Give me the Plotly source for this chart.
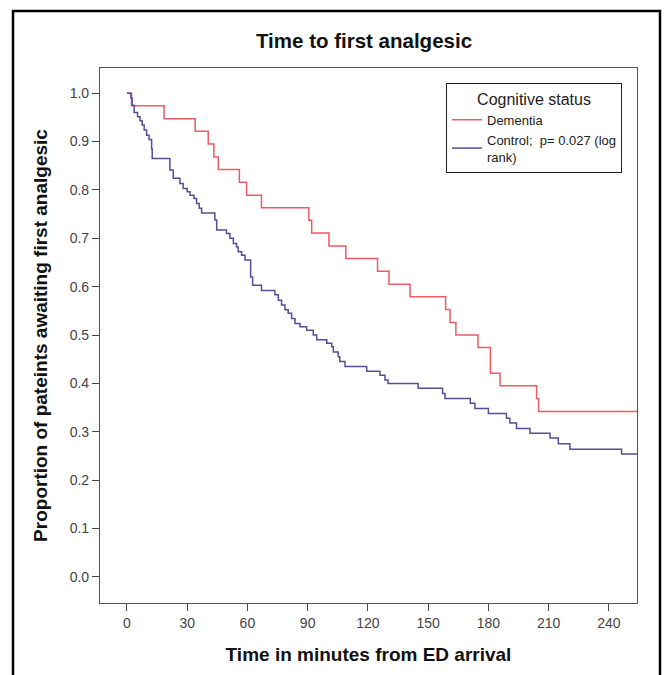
import plotly.graph_objects as go

# Dementia group (Kaplan-Meier steps)
dem_time = [0, 2.3, 18.5, 34, 40.5, 43.3, 45.5, 56, 59.6, 67, 90.6, 92, 100.6, 109,
            124.8, 130.5, 141, 158.7, 160.9, 163.8, 174.8, 181, 185.8, 204, 205, 260]
dem_surv = [1.0, 0.974, 0.947, 0.921, 0.895, 0.868, 0.842, 0.816, 0.789, 0.763, 0.737,
            0.711, 0.684, 0.658, 0.632, 0.605, 0.579, 0.553, 0.526, 0.500, 0.474, 0.421,
            0.395, 0.368, 0.342, 0.342]

# Control group
ctl_time = [0, 2.0, 2.6, 3.6, 5.3, 6.5, 7.6, 8.6, 9.8, 11, 12.3, 12.6, 21.4, 23.1, 26.4,
            28, 30, 31.4, 33.4, 34.7, 36, 37.2, 43.8, 44.7, 49.6, 51.3, 53, 54.6, 55.4,
            57.1, 58.8, 61.6, 62.6, 67, 73.7, 75.4, 77, 78.7, 80.3, 82, 83.7, 86.2, 89.5,
            92.8, 94.5, 99.5, 102, 102.8, 105.2, 106, 108.6, 119.4, 126, 128.5, 130, 145,
            157.2, 158.4, 171, 173.3, 180, 189, 190.7, 194, 200.7, 210.7, 214.8, 220.6,
            246.3, 260]
ctl_surv = [1.0, 0.99, 0.975, 0.96, 0.951, 0.943, 0.934, 0.924, 0.913, 0.904, 0.885, 0.865,
            0.841, 0.824, 0.813, 0.803, 0.796, 0.789, 0.782, 0.772, 0.762, 0.752, 0.738,
            0.717, 0.710, 0.700, 0.689, 0.682, 0.672, 0.665, 0.655, 0.620, 0.603, 0.592,
            0.583, 0.572, 0.562, 0.552, 0.545, 0.534, 0.524, 0.517, 0.510, 0.500, 0.490,
            0.483, 0.476, 0.465, 0.455, 0.445, 0.435, 0.425, 0.417, 0.407, 0.400, 0.390,
            0.379, 0.369, 0.359, 0.348, 0.338, 0.328, 0.318, 0.307, 0.297, 0.287, 0.275,
            0.264, 0.254, 0.254]

x_ticks = [0, 30, 60, 90, 120, 150, 180, 210, 240]
y_ticks = [0.0, 0.1, 0.2, 0.3, 0.4, 0.5, 0.6, 0.7, 0.8, 0.9, 1.0]
y_tick_labels = ["0.0", "0.1", "0.2", "0.3", "0.4", "0.5", "0.6", "0.7", "0.8", "0.9", "1.0"]

FONT = "Arial, 'Liberation Sans', sans-serif"

fig = go.Figure()
fig.add_trace(go.Scatter(x=dem_time, y=dem_surv, mode="lines", line_shape="hv",
                         name="Dementia", line=dict(color="#ee5a66", width=1.5)))
fig.add_trace(go.Scatter(x=ctl_time, y=ctl_surv, mode="lines", line_shape="hv",
                         name="Control;  p= 0.027 (log<br>rank)",
                         line=dict(color="#505099", width=1.5)))

fig.update_layout(
    width=665, height=675,
    margin=dict(l=100, r=28, t=68, b=72),
    paper_bgcolor="white", plot_bgcolor="white",
    font=dict(family=FONT, color="#222"),
    title=dict(text="<b>Time to first analgesic</b>", x=364/665, xref="container",
               xanchor="center", y=1-41/675, yref="container", yanchor="middle",
               font=dict(size=20.5, color="#111", family=FONT)),
    showlegend=True,
    legend=dict(x=(446-100)/537, y=(603-83)/535, xanchor="left", yanchor="top",
                bgcolor="white", bordercolor="#222", borderwidth=1,
                font=dict(size=13, color="#222", family=FONT),
                title=dict(text="Cognitive status", side="top center",
                           font=dict(size=16, color="#222", family=FONT)),
                tracegroupgap=0, itemwidth=30),
    xaxis=dict(range=[-13.4, 254], tickvals=x_ticks, ticks="outside", ticklen=7,
               tickcolor="#444", tickwidth=1.2, showgrid=False, zeroline=False,
               showline=True, mirror=True, linecolor="#555", linewidth=1.2,
               tickfont=dict(size=14, color="#444", family=FONT),
               title=dict(text="<b>Time in minutes from ED arrival</b>", standoff=17,
                          font=dict(size=19, color="#111", family=FONT))),
    yaxis=dict(range=[-0.054, 1.052], tickvals=y_ticks, ticktext=y_tick_labels,
               ticks="outside", ticklen=7, tickcolor="#444", tickwidth=1.2,
               showgrid=False, zeroline=False, showline=True, mirror=True,
               linecolor="#555", linewidth=1.2,
               tickfont=dict(size=14, color="#444", family=FONT),
               title=dict(text="<b>Proportion of pateints awaiting first analgesic</b>",
                          standoff=16, font=dict(size=19, color="#111", family=FONT))),
    shapes=[dict(type="rect", xref="paper", yref="paper",
                 x0=(13-100)/537, x1=(660-100)/537, y0=(603-700)/535, y1=(603-11)/535,
                 line=dict(color="black", width=2.5), fillcolor="rgba(0,0,0,0)",
                 layer="below")],
)

fig.write_html("out.html", config={"displayModeBar": False},
               post_script="document.body.style.margin='0';document.body.style.overflow='hidden';")
